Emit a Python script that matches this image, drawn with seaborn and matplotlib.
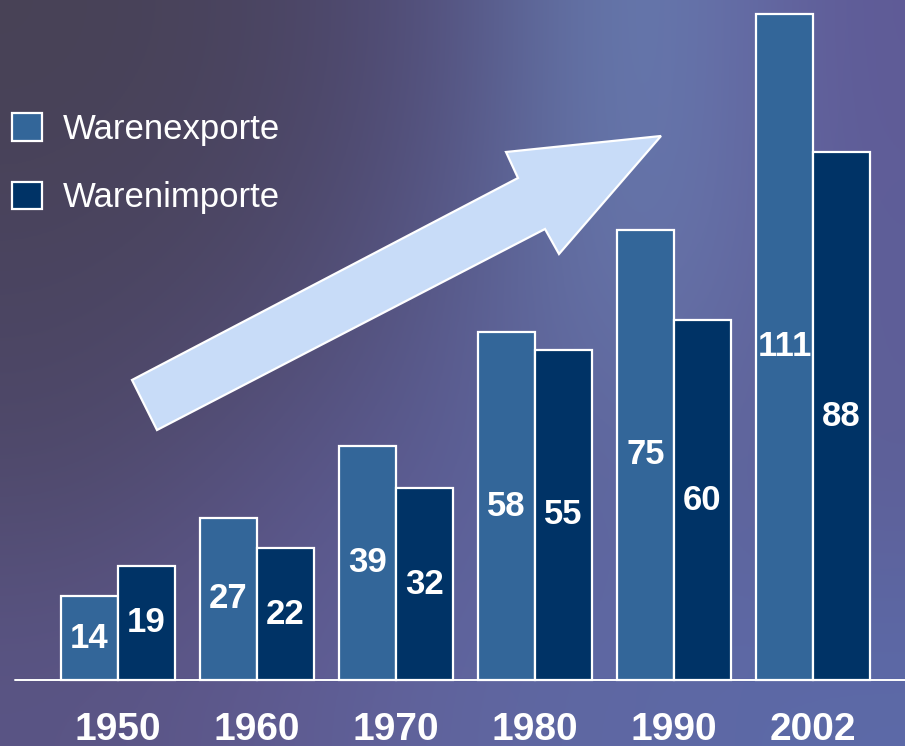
import matplotlib
matplotlib.use("Agg")
import matplotlib.pyplot as plt
import matplotlib.colors as mcolors
import numpy as np
import pandas as pd
import seaborn as sns
from matplotlib.patches import Patch, Polygon

years = ["1950", "1960", "1970", "1980", "1990", "2002"]
exports = [14, 27, 39, 58, 75, 111]
imports = [19, 22, 32, 55, 60, 88]
series_names = ["Warenexporte", "Warenimporte"]
series_colors = ["#336699", "#003366"]

df = pd.DataFrame({
    "year": years * 2,
    "value": exports + imports,
    "series": [series_names[0]] * len(years) + [series_names[1]] * len(years),
})

sns.set_theme(style="white")
plt.rcParams["font.family"] = ["Liberation Sans", "DejaVu Sans"]

W, H = 905, 746
fig = plt.figure(figsize=(W / 100, H / 100), dpi=100)

# background gradient (decoration only)
bg_ax = fig.add_axes([0, 0, 1, 1], zorder=0)
bg = [
    ["#484256", "#4a4460", "#545080", "#6a84b8", "#5f5a96"],
    ["#4a4460", "#4e4868", "#58598c", "#6a7cb0", "#5e5e98"],
    ["#4f496a", "#575282", "#5c5e96", "#5f6aa0", "#5e5e96"],
    ["#5a5585", "#5f5a90", "#6066a0", "#5e68a4", "#5c6aa8"],
]
bg_rgb = np.array([[mcolors.to_rgb(c) for c in row] for row in bg])
bg_ax.imshow(bg_rgb, aspect="auto", interpolation="bicubic", extent=[0, 1, 0, 1])
bg_ax.set_axis_off()

# main axes: px = 118 + 139*c ; 6 px per unit, baseline 66 px from bottom
ax = fig.add_axes([0, 0, 1, 1], zorder=1)
ax.patch.set_alpha(0)
sns.barplot(
    data=df, x="year", y="value", hue="series", palette=series_colors,
    width=0.82, edgecolor="white", linewidth=1.6, saturation=1, ax=ax,
    legend=False,
)
ax.set_xlim(-118 / 139, (W - 118) / 139)
ax.set_ylim(-66 / 6, (H - 66) / 6)
ax.set_axis_off()

for container in ax.containers:
    ax.bar_label(container, label_type="center", color="white",
                 fontsize=25, fontweight="bold")

ax.axhline(0, xmin=15 / W, xmax=1, color="white", linewidth=1.4, zorder=0.5)

for i, yr in enumerate(years):
    ax.text(i, -8.3, yr, ha="center", va="center", color="white",
            fontsize=28, fontweight="bold")

# arrow (figure pixel coords, from top)
arrow_px = [(132, 380), (518, 178), (506, 152), (661, 136),
            (559, 254), (545, 229), (157, 430)]
arrow = Polygon([(x / W, 1 - y / H) for x, y in arrow_px], closed=True,
                transform=fig.transFigure, facecolor="#c8dcf8",
                edgecolor="white", linewidth=1.6, zorder=3)
fig.patches.append(arrow)

handles = [Patch(facecolor=c, edgecolor="white", linewidth=1.6) for c in series_colors]
leg = fig.legend(handles, series_names, loc="upper left",
                 bbox_to_anchor=(12 / W, 1 - 113 / H), frameon=False,
                 fontsize=25, labelcolor="white", handlelength=0.85,
                 handleheight=0.85, handletextpad=0.6, labelspacing=1.02,
                 borderpad=0, borderaxespad=0)

fig.savefig("out.png", dpi=100)
